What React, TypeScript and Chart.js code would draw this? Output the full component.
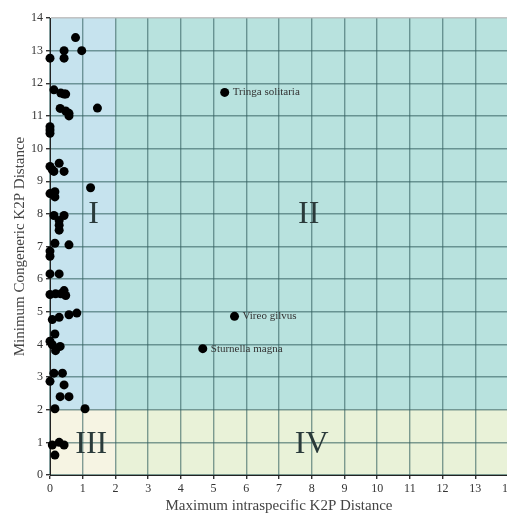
import React, { useEffect, useRef } from "react";
import { Chart, registerables } from "chart.js";
Chart.register(...registerables);

const xValues = [
  0.78, 0.97, 0.43, 0.43, 0.0,
  0.12, 0.33, 0.43, 0.48, 1.45, 0.31, 0.48, 0.58, 0.58,
  0.0, 0.0, 0.0,
  0.0, 0.07, 0.28, 0.12, 0.43,
  1.24, 0.0, 0.15, 0.15,
  0.12, 0.43, 0.28, 0.28, 0.28,
  0.15, 0.58,
  0.0, 0.0,
  0.0, 0.28,
  0.0, 0.17, 0.33, 0.43, 0.48,
  0.07, 0.28, 0.58, 0.82,
  0.15,
  0.0, 0.07, 0.17, 0.31,
  0.12, 0.38,
  0.0, 0.43, 0.31, 0.58,
  0.15, 1.07,
  0.07, 0.28, 0.43, 0.15,
];
const yValues = [
  13.4, 13.0, 13.0, 12.77, 12.77,
  11.8, 11.7, 11.67, 11.67, 11.24, 11.23, 11.15, 11.08, 11.0,
  10.67, 10.57, 10.47,
  9.45, 9.35, 9.55, 9.3, 9.3,
  8.8, 8.62, 8.68, 8.52,
  7.95, 7.95, 7.8, 7.65, 7.5,
  7.1, 7.05,
  6.86, 6.7,
  6.16, 6.16,
  5.53, 5.55, 5.55, 5.65, 5.5,
  4.76, 4.83, 4.91, 4.96,
  4.32,
  4.1, 3.99, 3.81, 3.94,
  3.12, 3.12,
  2.87, 2.76, 2.4, 2.4,
  2.03, 2.03,
  0.92, 1.0, 0.92, 0.61,
];

const labeledNames = ["Tringa solitaria", "Vireo gilvus", "Sturnella magna"];
const labeledX = [5.34, 5.64, 4.67];
const labeledY = [11.72, 4.86, 3.87];

const axisMin = 0;
const axisMax = 14;
const thresholdX = 2;
const thresholdY = 2;

const regionNames = ["I", "II", "III", "IV"];
const regionLabelX = [1.33, 7.91, 1.26, 8.0];
const regionLabelY = [7.97, 7.97, 0.93, 0.93];

const xTitle = "Maximum intraspecific K2P Distance";
const yTitle = "Minimum Congeneric K2P Distance";

const SERIF = "'Liberation Serif', 'DejaVu Serif', serif";

export default function App() {
  const ref = useRef<HTMLCanvasElement | null>(null);

  useEffect(() => {
    if (!ref.current) return;

    const regionPlugin = {
      id: "regions",
      beforeDraw(chart: any) {
        const { ctx, scales } = chart;
        const xs = scales.x;
        const ys = scales.y;
        const x0 = xs.getPixelForValue(axisMin);
        const x2 = xs.getPixelForValue(thresholdX);
        const x1 = xs.getPixelForValue(axisMax);
        const y0 = ys.getPixelForValue(axisMin);
        const y2 = ys.getPixelForValue(thresholdY);
        const y1 = ys.getPixelForValue(axisMax);
        ctx.save();
        ctx.fillStyle = "#c6e3ee";
        ctx.fillRect(x0, y1, x2 - x0, y2 - y1);
        ctx.fillStyle = "#b8e2de";
        ctx.fillRect(x2, y1, x1 - x2, y2 - y1);
        ctx.fillStyle = "#f6f4e3";
        ctx.fillRect(x0, y2, x2 - x0, y0 - y2);
        ctx.fillStyle = "#e9f2d8";
        ctx.fillRect(x2, y2, x1 - x2, y0 - y2);
        ctx.restore();
      },
      afterDatasetsDraw(chart: any) {
        const { ctx, scales } = chart;
        const xs = scales.x;
        const ys = scales.y;
        ctx.save();
        ctx.fillStyle = "#2a3a3a";
        ctx.font = `32px ${SERIF}`;
        ctx.textAlign = "center";
        ctx.textBaseline = "middle";
        regionNames.forEach((n, i) => {
          ctx.fillText(n, xs.getPixelForValue(regionLabelX[i]), ys.getPixelForValue(regionLabelY[i]));
        });
        ctx.font = `11px ${SERIF}`;
        ctx.fillStyle = "#333";
        ctx.textAlign = "left";
        labeledNames.forEach((n, i) => {
          ctx.fillText(n, xs.getPixelForValue(labeledX[i]) + 8, ys.getPixelForValue(labeledY[i]));
        });
        ctx.restore();
      },
    };

    const gridColor = (c: any) =>
      c.tick && c.tick.value === axisMax ? "rgba(180,180,180,0.8)" : "rgba(50,95,95,0.6)";

    const chart = new Chart(ref.current, {
      type: "scatter",
      data: {
        datasets: [
          {
            data: xValues.map((x, i) => ({ x, y: yValues[i] })),
            backgroundColor: "#000",
            borderWidth: 0,
            pointRadius: 4.5,
            clip: false,
          },
          {
            data: labeledX.map((x, i) => ({ x, y: labeledY[i] })),
            backgroundColor: "#000",
            borderWidth: 0,
            pointRadius: 4.5,
            clip: false,
          },
        ],
      },
      options: {
        animation: false,
        responsive: false,
        devicePixelRatio: 1,
        layout: { padding: { left: 0, right: 12, top: 18, bottom: 0 } },
        plugins: { legend: { display: false }, tooltip: { enabled: false } },
        scales: {
          x: {
            type: "linear",
            min: axisMin,
            max: axisMax,
            afterFit(scale: any) {
              scale.height = 40;
            },
            ticks: {
              stepSize: 1,
              padding: 3,
              color: "#333",
              font: { family: SERIF, size: 12 },
              maxRotation: 0,
            },
            grid: {
              color: gridColor,
              lineWidth: 1.4,
              drawTicks: true,
              tickLength: 4,
              tickColor: "#333",
            },
            border: { display: true, color: "#222", width: 1 },
            title: {
              display: true,
              text: xTitle,
              color: "#444",
              font: { family: SERIF, size: 15 },
              padding: { top: 0, bottom: 0 },
            },
          },
          y: {
            type: "linear",
            min: axisMin,
            max: axisMax,
            afterFit(scale: any) {
              scale.width = 50;
            },
            ticks: {
              stepSize: 1,
              padding: 3,
              color: "#333",
              font: { family: SERIF, size: 12 },
            },
            grid: {
              color: gridColor,
              lineWidth: 1.4,
              drawTicks: true,
              tickLength: 4,
              tickColor: "#333",
            },
            border: { display: true, color: "#222", width: 1 },
            title: {
              display: true,
              text: yTitle,
              color: "#444",
              font: { family: SERIF, size: 15 },
              padding: { top: 11, bottom: 0 },
            },
          },
        },
      },
      plugins: [regionPlugin],
    });
    return () => chart.destroy();
  }, []);

  return (
    <div
      style={{
        position: "absolute",
        left: 0,
        top: 0,
        width: 507,
        height: 515,
        overflow: "hidden",
        background: "#fff",
      }}
    >
      <canvas ref={ref} width={520} height={515} style={{ display: "block" }} />
    </div>
  );
}
